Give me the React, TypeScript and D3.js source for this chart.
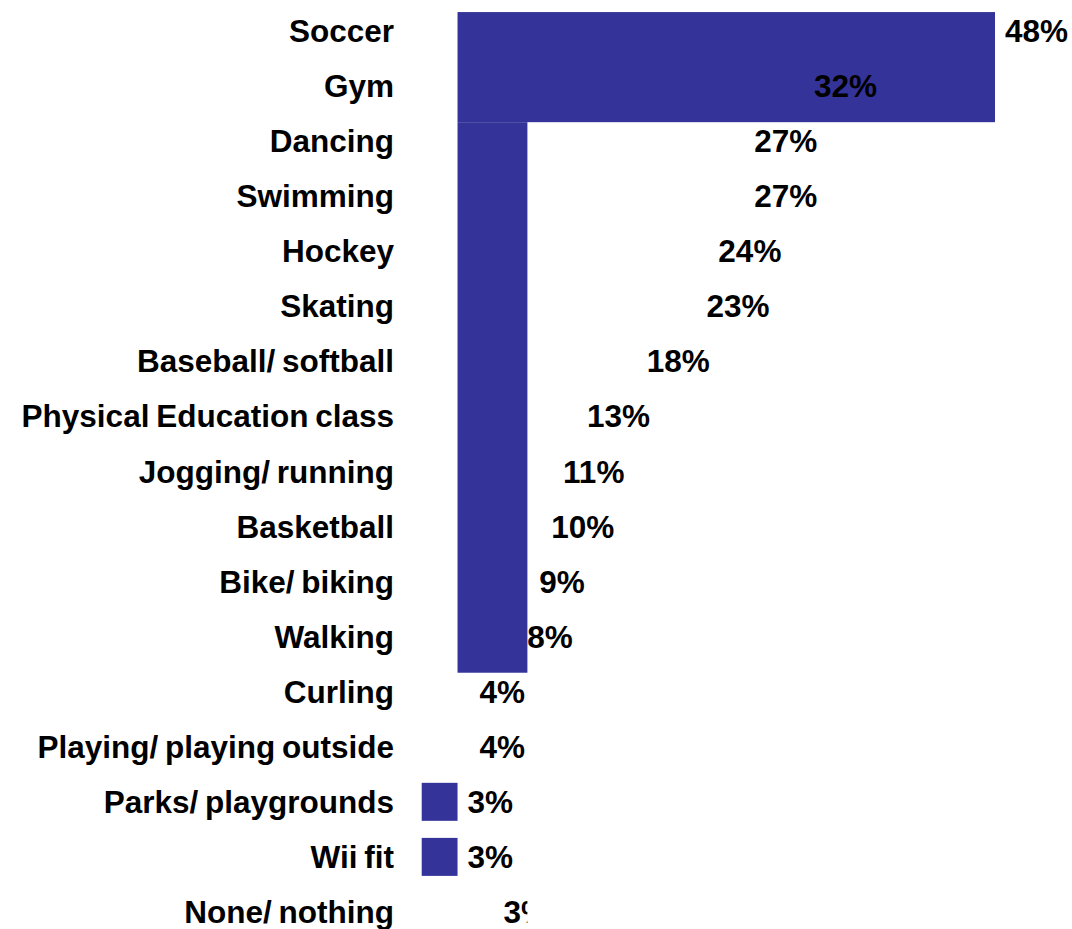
import React from "react";
import * as d3 from "d3";

// Data
const categories = [
  "Soccer",
  "Gym",
  "Dancing",
  "Swimming",
  "Hockey",
  "Skating",
  "Baseball/ softball",
  "Physical Education class",
  "Jogging/ running",
  "Basketball",
  "Bike/ biking",
  "Walking",
  "Curling",
  "Playing/ playing outside",
  "Parks/ playgrounds",
  "Wii fit",
  "None/ nothing",
];
const values = [48, 32, 27, 27, 24, 23, 18, 13, 11, 10, 9, 8, 4, 4, 3, 3, 3];

// Merged bar blocks as they appear in the picture (start row, end row, value span)
const blockFrom = ["Soccer", "Dancing"];
const blockTo = ["Dancing", "Curling"];
const blockLo = [3, 3];
const blockHi = [48, 8.85];

// Rows that keep an ordinary bar
const plainBars = ["Parks/ playgrounds", "Wii fit"];

const W = 1072;
const H = 929;
const BAR = "#333399";
const FONT = "'Liberation Sans', Arial, sans-serif";
const FS = 31.5;

export default function App() {
  const x = d3.scaleLinear().domain([0, 48]).range([421.7, 995]);
  const y = d3
    .scaleBand<string>()
    .domain(categories)
    .range([-5, 948])
    .paddingInner(0.31)
    .paddingOuter(0.31);
  const bw = y.bandwidth();
  const labelRight = 394;
  const noneShift = 36;

  return (
    <svg
      width={W}
      height={H}
      style={{ position: "absolute", left: 0, top: 0, background: "#fff" }}
    >
      <defs>
        <clipPath id="noneClip">
          <rect x={0} y={0} width={x(8.85)} height={H} />
        </clipPath>
      </defs>

      {/* bars */}
      {blockFrom.map((c, i) => (
        <rect
          key={"blk" + i}
          x={x(blockLo[i])}
          y={y(c)!}
          width={x(blockHi[i]) - x(blockLo[i])}
          height={y(blockTo[i])! - y(c)!}
          fill={BAR}
        />
      ))}
      {plainBars.map((c) => {
        const v = values[categories.indexOf(c)];
        return (
          <rect
            key={"bar" + c}
            x={x(0)}
            y={y(c)!}
            width={x(v) - x(0)}
            height={bw}
            fill={BAR}
          />
        );
      })}

      {/* category labels */}
      {categories.map((c) => (
        <text
          key={"lab" + c}
          x={labelRight}
          y={y(c)! + bw / 2}
          dy="0.35em"
          textAnchor="end"
          fontFamily={FONT}
          fontWeight="bold"
          fontSize={FS}
          wordSpacing={-2}
          fill="#000"
        >
          {c}
        </text>
      ))}

      {/* value labels */}
      {categories.map((c, i) => {
        const isNone = c === "None/ nothing";
        return (
          <text
            key={"val" + c}
            x={x(values[i]) + 10 + (isNone ? noneShift : 0)}
            y={y(c)! + bw / 2}
            dy="0.35em"
            fontFamily={FONT}
            fontWeight="bold"
            fontSize={FS}
            fill="#000"
            clipPath={isNone ? "url(#noneClip)" : undefined}
          >
            {values[i] + "%"}
          </text>
        );
      })}
    </svg>
  );
}
